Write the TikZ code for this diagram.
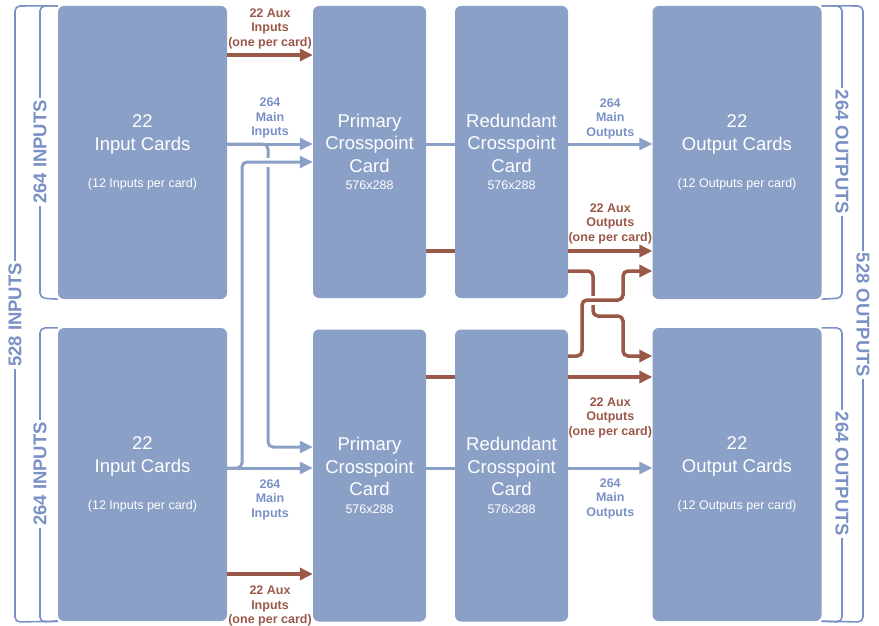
\documentclass[tikz,border=0pt]{standalone}
\usepackage{fontspec}
\setmainfont{Liberation Sans}
\usetikzlibrary{arrows.meta}

\definecolor{cardblue}{RGB}{139,160,199}
\definecolor{labelblue}{RGB}{122,145,198}
\definecolor{auxbrown}{RGB}{154,88,72}

\tikzset{
	card/.style={fill=cardblue, rounded corners=6pt, text=white, align=center, inner sep=0pt,
		font=\fontsize{18.5}{22.5}\selectfont},
	iocard/.style={card, minimum width=169pt, minimum height=293pt},
	xpcard/.style={card, minimum width=113pt, minimum height=292pt},
	mainwire/.style={cardblue, line width=3pt, rounded corners=5pt},
	auxwire/.style={auxbrown, line width=3.5pt, rounded corners=5pt},
	endtip/.style={-{Triangle[length=13pt,width=12pt]}},
	mainlabel/.style={text=labelblue, font=\bfseries\fontsize{12.5}{14.5}\selectfont, align=center, inner sep=0pt},
	auxlabel/.style={mainlabel, text=auxbrown},
	brace/.style={labelblue, line width=1.6pt, rounded corners=5pt},
	bracelabel/.style={text=labelblue, fill=white, font=\bfseries\fontsize{18.5}{20}\selectfont, inner sep=2pt},
	gap/.style={white, line width=9pt},
}

\newcommand{\smallline}[1]{{\fontsize{12.5}{15}\selectfont #1}}

\begin{document}
\begin{tikzpicture}[x=1pt, y=-1pt]
	
	\useasboundingbox (0,0) rectangle (879,626);
	
	%Cards
	\node (inA) at (142.5,152.5) [iocard]{22\\Input Cards\\[15pt]\smallline{(12 Inputs per card)}};
	\node (inB) at (142.5,474.5) [iocard]{22\\Input Cards\\[15pt]\smallline{(12 Inputs per card)}};
	\node (priA) at (369.5,152) [xpcard]{Primary\\Crosspoint\\Card\\[-5pt]\smallline{576x288}};
	\node (priB) at (369.5,475.5) [xpcard]{Primary\\Crosspoint\\Card\\[-5pt]\smallline{576x288}};
	\node (redA) at (511.5,152) [xpcard]{Redundant\\Crosspoint\\Card\\[-5pt]\smallline{576x288}};
	\node (redB) at (511.5,475.5) [xpcard]{Redundant\\Crosspoint\\Card\\[-5pt]\smallline{576x288}};
	\node (outA) at (737,152.5) [iocard]{22\\Output Cards\\[15pt]\smallline{(12 Outputs per card)}};
	\node (outB) at (737,474.5) [iocard]{22\\Output Cards\\[15pt]\smallline{(12 Outputs per card)}};
	
	%Wire levels
	\coordinate (auxInA) at (0,55);
	\coordinate (mainA) at (0,144);
	\coordinate (crossA) at (0,162);
	\coordinate (auxA) at (0,251);
	\coordinate (swapA) at (0,271);
	\coordinate (swapB) at (0,356);
	\coordinate (auxB) at (0,377);
	\coordinate (crossB) at (0,447);
	\coordinate (mainB) at (0,468);
	\coordinate (auxInB) at (0,574);
	
	%Main links
	\draw[mainwire, endtip] (inA.east |- mainA) -- node[mainlabel, above=4pt]{264\\Main\\Inputs} (priA.west |- mainA);
	\draw[mainwire, endtip] (inA.east |- mainA) -- (268,144) -- (268,447) -- (priB.west |- crossB);
	\draw[gap] (256,162) -- (280,162);
	\draw[mainwire, endtip] (inB.east |- mainB) -- (242,468) -- (242,162) -- (priA.west |- crossA);
	\draw[mainwire, endtip] (inB.east |- mainB) -- node[mainlabel, below=10pt]{264\\Main\\Inputs} (priB.west |- mainB);
	\draw[mainwire] (priA.east |- mainA) -- (redA.west |- mainA);
	\draw[mainwire] (priB.east |- mainB) -- (redB.west |- mainB);
	\draw[mainwire, endtip] (redA.east |- mainA) -- node[mainlabel, above=3.5pt]{264\\Main\\Outputs} (outA.west |- mainA);
	\draw[mainwire, endtip] (redB.east |- mainB) -- node[mainlabel, below=9pt]{264\\Main\\Outputs} (outB.west |- mainB);
	
	%Aux links
	\draw[auxwire, endtip] (inA.east |- auxInA) -- node[auxlabel, above=4.5pt]{22 Aux\\Inputs\\(one per card)} (priA.west |- auxInA);
	\draw[auxwire, endtip] (inB.east |- auxInB) -- node[auxlabel, below=10.5pt]{22 Aux\\Inputs\\(one per card)} (priB.west |- auxInB);
	\draw[auxwire] (priA.east |- auxA) -- (redA.west |- auxA);
	\draw[auxwire] (priB.east |- auxB) -- (redB.west |- auxB);
	\draw[auxwire, endtip] (redA.east |- auxA) -- node[auxlabel, above=5.5pt]{22 Aux\\Outputs\\(one per card)} (outA.west |- auxA);
	\draw[auxwire, endtip] (redB.east |- auxB) -- node[auxlabel, below=19pt]{22 Aux\\Outputs\\(one per card)} (outB.west |- auxB);
	\draw[auxwire, endtip] (redA.east |- swapA) -- (593,271) -- (593,316) -- (623,316) -- (623,356) -- (outB.west |- swapB);
	\draw[gap] (585,300) -- (601,300);
	\draw[auxwire, endtip] (redB.east |- swapB) -- (582,356) -- (582,300) -- (623,300) -- (623,271) -- (outA.west |- swapA);
	
	%Brackets
	\draw[brace] (inA.north west) -- (40,6) -- (40,298) -- (inA.south west);
	\draw[brace] (inB.north west) -- (40,328) -- (40,622) -- (inB.south west);
	\draw[brace] (inA.north west) -- (15,6) -- (15,622) -- (inB.south west);
	\draw[brace] (outA.north east) -- (842,6) -- (842,298) -- (outA.south east);
	\draw[brace] (outB.north east) -- (842,328) -- (842,622) -- (outB.south east);
	\draw[brace] (outA.north east) -- (863,6) -- (863,622) -- (outB.south east);
	
	\node (inCountA) at (40,152) [bracelabel, rotate=90]{264 INPUTS};
	\node (inCountB) at (40,474) [bracelabel, rotate=90]{264 INPUTS};
	\node (inTotal) at (15,315) [bracelabel, rotate=90]{528 INPUTS};
	\node (outCountA) at (842,152) [bracelabel, rotate=-90]{264 OUTPUTS};
	\node (outCountB) at (842,474) [bracelabel, rotate=-90]{264 OUTPUTS};
	\node (outTotal) at (863,315) [bracelabel, rotate=-90]{528 OUTPUTS};
	
\end{tikzpicture}
\end{document}
